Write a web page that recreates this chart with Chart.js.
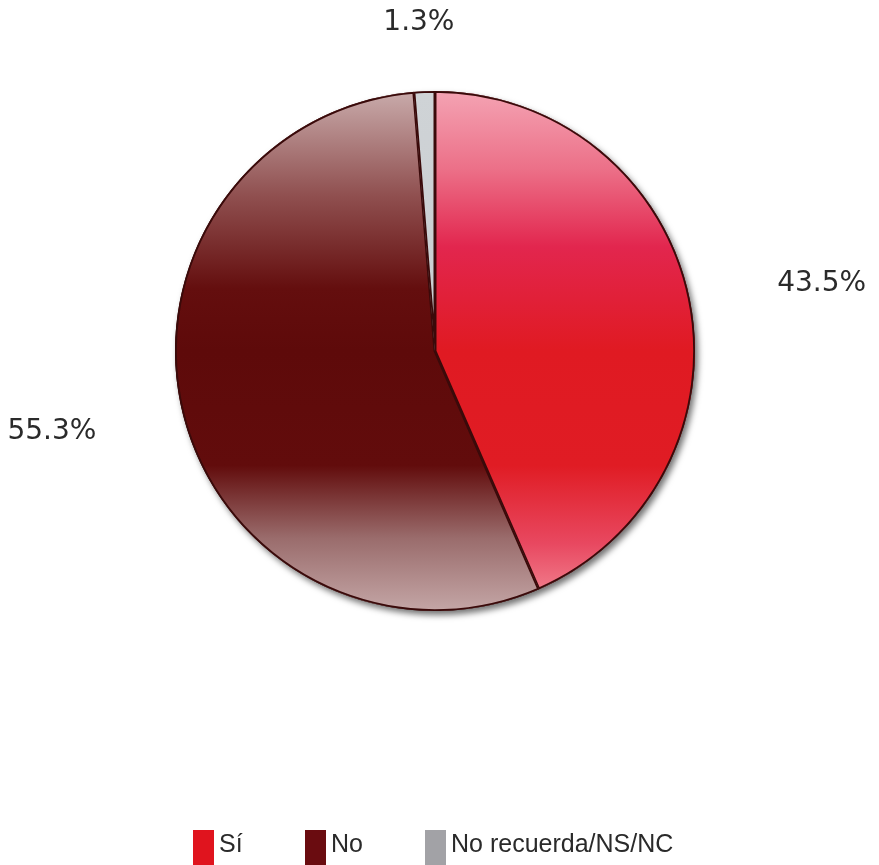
<!DOCTYPE html>
<html><head><meta charset="utf-8">
<script src="https://cdn.jsdelivr.net/npm/chart.js@4.4.1/dist/chart.umd.min.js"></script>
<style>html,body{margin:0;padding:0;background:#fff;}#w{width:879px;height:865px;}</style>
</head><body><div id="w"><canvas id="c"></canvas></div>
<script>
const categories = ["Sí", "No", "No recuerda/NS/NC"];
const values = [43.5, 55.3, 1.3];
const valueLabels = ["43.5%", "55.3%", "1.3%"];

function grad(ctx, area, stops) {
  const g = ctx.createLinearGradient(0, area.top, 0, area.bottom);
  stops.forEach(s => g.addColorStop(s[0], s[1]));
  return g;
}
const gradStops = [
  [[0, "#f4a3b3"], [0.15, "#ec7088"], [0.3, "#e2264e"], [0.5, "#e01a22"], [0.72, "#e01c24"], [0.87, "#e84860"], [1, "#f4909c"]],
  [[0, "#c9abab"], [0.2, "#905050"], [0.38, "#640e0e"], [0.5, "#5e0a0a"], [0.72, "#620c0c"], [0.86, "#9a6c6c"], [1, "#c4a6a6"]],
  [[0, "#cfd3d6"], [1, "#c4c8cc"]]
];
const legendColors = ["#e0141e", "#6a0c10", "#a2a2a6"];

const shadowPlugin = {
  id: "shadow",
  beforeDatasetsDraw(chart) {
    const arc = chart.getDatasetMeta(0).data[0];
    if (!arc) return;
    const ctx = chart.ctx;
    ctx.save();
    ctx.shadowColor = "rgba(0,0,0,0.55)";
    ctx.shadowBlur = 6;
    ctx.shadowOffsetX = 3;
    ctx.shadowOffsetY = 4;
    ctx.beginPath();
    ctx.arc(arc.x, arc.y, arc.outerRadius, 0, Math.PI * 2);
    ctx.fillStyle = "#3a0808";
    ctx.fill();
    ctx.restore();
  }
};

const labelPlugin = {
  id: "outLabels",
  afterDatasetsDraw(chart) {
    const ctx = chart.ctx;
    const meta = chart.getDatasetMeta(0);
    ctx.save();
    ctx.font = "28px 'DejaVu Sans'";
    ctx.fillStyle = "#2a2a2a";
    ctx.textBaseline = "middle";
    ctx.textAlign = "center";
    meta.data.forEach((a, i) => {
      const mid = (a.startAngle + a.endAngle) / 2;
      const s = Math.cos(mid), c = Math.sin(mid);
      const x = a.x + (a.outerRadius + 135) * s;
      const y = a.y + (a.outerRadius + 69) * c;
      ctx.fillText(valueLabels[i], x, y);
    });
    ctx.restore();
  }
};

const legendPlugin = {
  id: "customLegend",
  afterDraw(chart) {
    const ctx = chart.ctx;
    ctx.save();
    ctx.font = "25px 'Liberation Sans'";
    ctx.textBaseline = "middle";
    const starts = [193, 305, 425];
    categories.forEach((c, i) => {
      ctx.fillStyle = legendColors[i];
      ctx.fillRect(starts[i], 830, 21, 35);
      ctx.fillStyle = "#2a2a2a";
      ctx.textAlign = "left";
      ctx.fillText(c, starts[i] + 26, 845);
    });
    ctx.restore();
  }
};

new Chart(document.getElementById("c"), {
  type: "pie",
  data: {
    labels: categories,
    datasets: [{
      data: values,
      backgroundColor: (ctx) => {
        const area = ctx.chart.chartArea;
        if (!area) return legendColors[ctx.dataIndex];
        return grad(ctx.chart.ctx, area, gradStops[ctx.dataIndex]);
      },
      borderColor: "#3a0a0a",
      borderWidth: 1.5,
      borderAlign: "inner"
    }]
  },
  options: {
    responsive: true,
    maintainAspectRatio: false,
    animation: false,
    layout: { padding: { left: 175, right: 184, top: 91, bottom: 254 } },
    plugins: { legend: { display: false }, tooltip: { enabled: false } }
  },
  plugins: [shadowPlugin, labelPlugin, legendPlugin]
});
</script>
</body></html>
